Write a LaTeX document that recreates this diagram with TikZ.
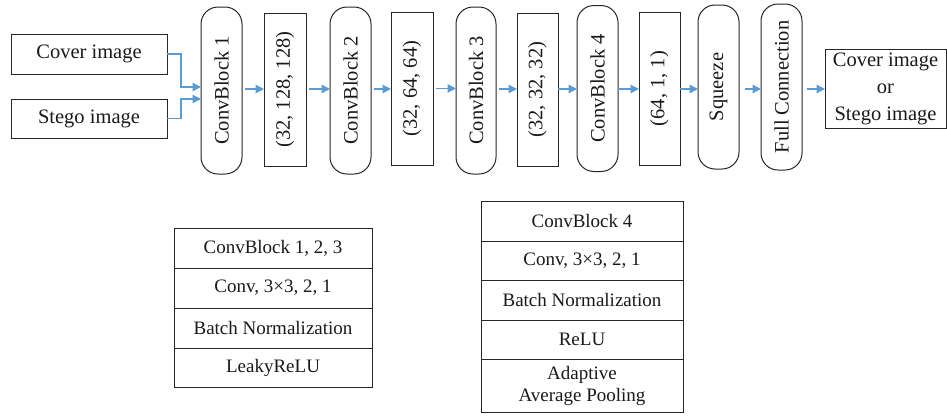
\documentclass[tikz,border=0pt]{standalone}
\usepackage{fontspec}
\setmainfont{Liberation Serif}
\usetikzlibrary{arrows.meta,calc}
\begin{document}
\begin{tikzpicture}[x=1pt,y=-1pt,
  every node/.style={font=\fontsize{20.5}{27}\selectfont, inner sep=0pt, outer sep=0pt, text=black!90},
  plainbox/.style={draw=black!85, line width=1pt, rectangle},
  roundbox/.style={draw=black!85, line width=1pt, rectangle, rounded corners=17pt},
  cell/.style={draw=black!85, line width=1pt, rectangle, align=center, font=\fontsize{19}{22}\selectfont},
  flow/.style={draw={rgb,255:red,91;green,155;blue,213}, line width=1.2pt, -{Triangle[length=8.5pt,width=8.5pt]}, color={rgb,255:red,91;green,155;blue,213}}
]
\useasboundingbox (0,0) rectangle (947,416);
% inputs
\node[plainbox, minimum width=156pt, minimum height=40pt] (cover) at (89,54) {Cover image};
\node[plainbox, minimum width=156pt, minimum height=39pt] (stego) at (89,118.5) {Stego image};
% pipeline
\node[roundbox, minimum width=41pt, minimum height=167pt] (cb1) at (221.5,90.5) {\rotatebox{90}{ConvBlock 1}};
\node[plainbox, minimum width=42pt, minimum height=153pt] (s1) at (285,89.5) {\rotatebox{90}{(32, 128, 128)}};
\node[roundbox, minimum width=41pt, minimum height=167pt] (cb2) at (350.5,90.5) {\rotatebox{90}{ConvBlock 2}};
\node[plainbox, minimum width=42pt, minimum height=153pt] (s2) at (412,88.5) {\rotatebox{90}{(32, 64, 64)}};
\node[roundbox, minimum width=40pt, minimum height=167pt] (cb3) at (476,90.5) {\rotatebox{90}{ConvBlock 3}};
\node[plainbox, minimum width=41pt, minimum height=153pt] (s3) at (537.5,89.5) {\rotatebox{90}{(32, 32, 32)}};
\node[roundbox, minimum width=41pt, minimum height=166pt] (cb4) at (597.5,88.5) {\rotatebox{90}{ConvBlock 4}};
\node[plainbox, minimum width=41pt, minimum height=153pt] (s4) at (659.5,88.5) {\rotatebox{90}{(64, 1, 1)}};
\node[roundbox, minimum width=41pt, minimum height=164pt] (sq) at (718.5,87) {\rotatebox{90}{Squeeze}};
\node[roundbox, minimum width=41pt, minimum height=166pt] (fc) at (781.5,87) {\rotatebox{90}{Full Connection}};
\node[plainbox, minimum width=121pt, minimum height=79pt, align=center] (out) at (885.5,88.5) {Cover image\\or\\Stego image};
% connectors
\draw[flow] (cover.east) -- ++(14,0) |- ([yshift=3.5pt]cb1.west);
\draw[flow] (stego.east) -- ++(14,0) |- ([yshift=-8.5pt]cb1.west);
\draw[flow, shorten <=3pt] ([yshift=1.5pt]cb1.east) -- ([yshift=1.5pt]cb1.east -| s1.west);
\draw[flow, shorten <=3pt] ([yshift=0.5pt]s1.east) -- ([yshift=0.5pt]s1.east -| cb2.west);
\draw[flow, shorten <=3pt] ([yshift=1.5pt]cb2.east) -- ([yshift=1.5pt]cb2.east -| s2.west);
\draw[flow, shorten <=3pt] (s2.east) -- (s2.east -| cb3.west);
\draw[flow, shorten <=3pt] ([yshift=1.5pt]cb3.east) -- ([yshift=1.5pt]cb3.east -| s3.west);
\draw[flow] ([yshift=0.5pt]s3.east) -- ([yshift=0.5pt]s3.east -| cb4.west);
\draw[flow] ([yshift=-0.5pt]cb4.east) -- ([yshift=-0.5pt]cb4.east -| s4.west);
\draw[flow] ([yshift=-0.5pt]s4.east) -- ([yshift=-0.5pt]s4.east -| sq.west);
\draw[flow, shorten <=6pt] ([yshift=-2pt]sq.east) -- ([yshift=-2pt]sq.east -| fc.west);
\draw[flow, shorten <=5pt] ([yshift=-2pt]fc.east) -- ([yshift=-2pt]fc.east -| out.west);
% left table
\node[cell, minimum width=198pt, minimum height=40pt] (l1) at (273,248) {ConvBlock 1, 2, 3};
\node[cell, minimum width=198pt, minimum height=40pt, anchor=north] (l2) at (l1.south) {Conv, 3×3, 2, 1};
\node[cell, minimum width=198pt, minimum height=40pt, anchor=north] (l3) at (l2.south) {Batch Normalization};
\node[cell, minimum width=198pt, minimum height=39pt, anchor=north] (l4) at (l3.south) {LeakyReLU};
% right table
\node[cell, minimum width=202pt, minimum height=40pt] (r1) at (582,221) {ConvBlock 4};
\node[cell, minimum width=202pt, minimum height=39pt, anchor=north] (r2) at (r1.south) {Conv, 3×3, 2, 1};
\node[cell, minimum width=202pt, minimum height=40pt, anchor=north] (r3) at (r2.south) {Batch Normalization};
\node[cell, minimum width=202pt, minimum height=39pt, anchor=north] (r4) at (r3.south) {ReLU};
\node[cell, minimum width=202pt, minimum height=53pt, anchor=north] (r5) at (r4.south) {Adaptive\\Average Pooling};
\end{tikzpicture}
\end{document}
